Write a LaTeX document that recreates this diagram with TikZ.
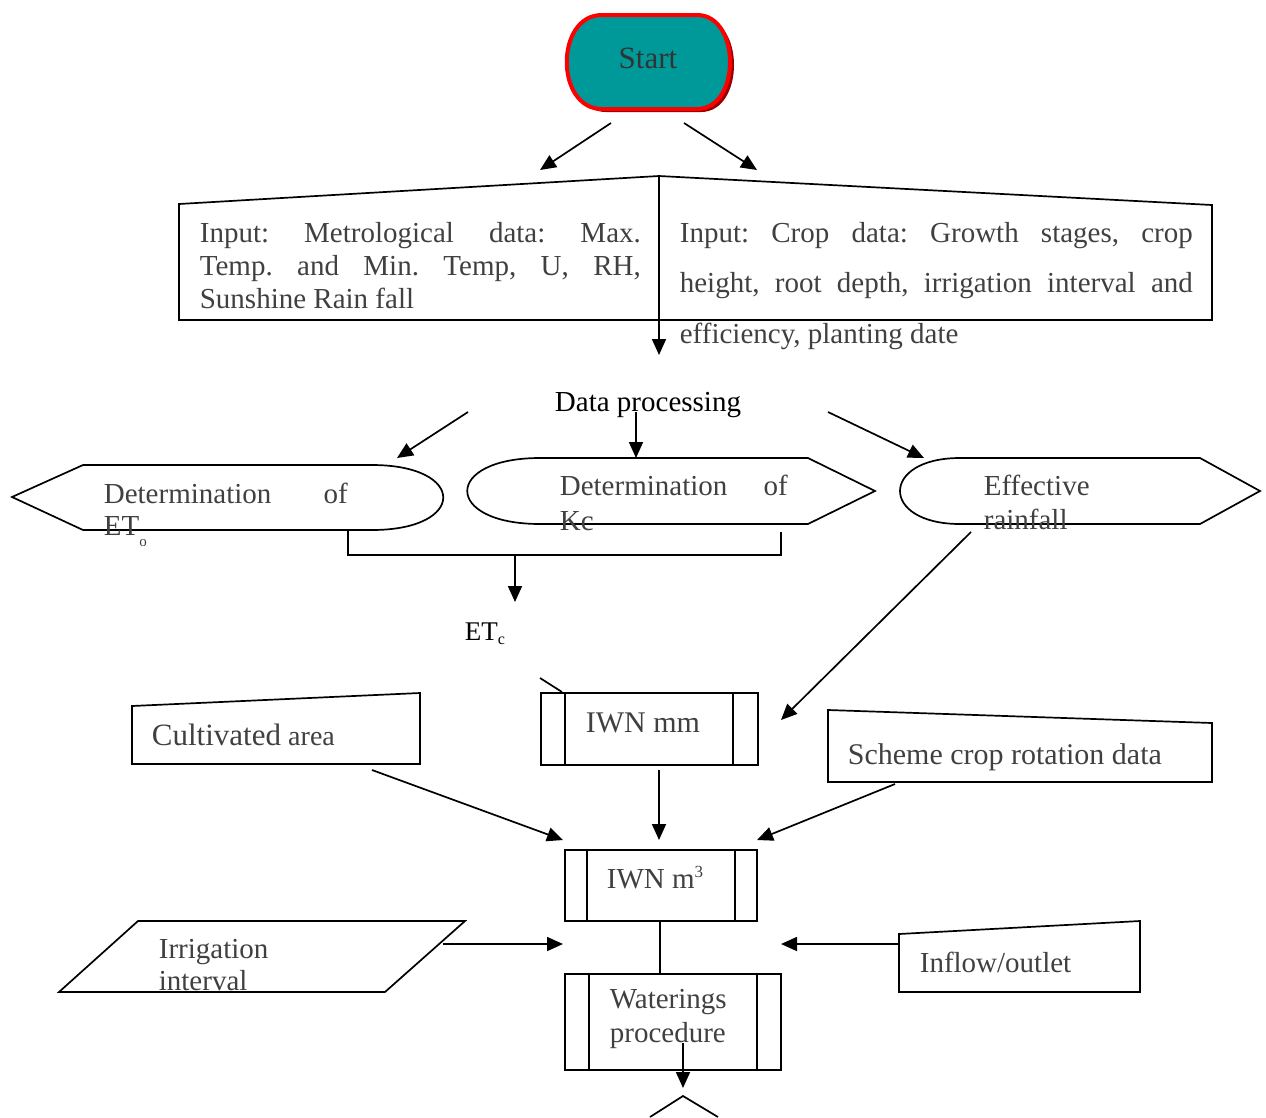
\documentclass[tikz,border=0pt]{standalone}
\usepackage{fontspec}
\setmainfont{Liberation Serif}
\usetikzlibrary{arrows.meta,calc}
\definecolor{txt}{HTML}{404040}
\definecolor{tealfill}{HTML}{009999}
\definecolor{shad}{HTML}{990000}
\frenchspacing
\begin{document}
\begin{tikzpicture}[x=1pt,y=-1pt, line width=1.7pt, line join=miter,
  arr/.style={-{Triangle[length=16pt,width=14pt]}},
  lbl/.style={inner sep=0pt, text=txt, font=\fontsize{29}{33}\selectfont},
  blk/.style={inner sep=0pt, text=black, font=\fontsize{29}{33}\selectfont},
  procbox/.style={draw, inner sep=0pt, anchor=north west}
]
\useasboundingbox (0,0) rectangle (1266,1117);

% ---------- Start terminal ----------
\fill[shad] (606,18) -- (701,18) .. controls (745,18) and (745,112) .. (701,112)
  -- (606,112) .. controls (559,112) and (559,18) .. (606,18) -- cycle;
\filldraw[fill=tealfill, draw=red, line width=4pt] (602,15) -- (697,15)
  .. controls (741,15) and (741,109) .. (697,109) -- (602,109)
  .. controls (555,109) and (555,15) .. (602,15) -- cycle;
\node[inner sep=0pt, text=txt!80!black, font=\fontsize{31}{35}\selectfont, anchor=base] (tstart) at (648,68) {Start};

% ---------- Input shapes ----------
\draw (179,204) -- (659,176) -- (659,320) -- (179,320) -- cycle;
\draw (659,176) -- (1212,205) -- (1212,320) -- (659,320);
\node[lbl, anchor=base west] (m1) at (199,242) {\makebox[441pt][s]{Input: Metrological data: Max.}};
\node[lbl, anchor=base west] (m2) at (199,275) {\makebox[441pt][s]{Temp. and Min. Temp, U, RH,}};
\node[lbl, anchor=base west] (m3) at (199,308) {Sunshine Rain fall};
\node[lbl, anchor=base west] (c1) at (679,242) {\makebox[513pt][s]{Input: Crop data: Growth stages, crop}};
\node[lbl, anchor=base west] (c2) at (679,292) {\makebox[513pt][s]{height, root depth, irrigation interval and}};
\node[lbl, anchor=base west] (c3) at (679,343) {efficiency, planting date};

% ---------- Data processing ----------
\node[blk, anchor=base] (dp) at (648,411) {Data processing};

% ---------- Determination shapes ----------
\draw (12,497) -- (83,465) -- (372,465) .. controls (467,465) and (467,530) .. (372,530)
  -- (83,530) -- cycle;
\draw (540,458) -- (808,458) -- (875,491) -- (808,524) -- (540,524)
  .. controls (443,524) and (443,458) .. (540,458) -- cycle;
\draw (960,458) -- (1200,458) -- (1260,491) -- (1200,524) -- (960,524)
  .. controls (880,524) and (880,458) .. (960,458) -- cycle;
\node[lbl, anchor=base west] (eto1) at (103,503) {\makebox[244pt][s]{Determination of}};
\node[lbl, anchor=base west] (eto2) at (103,535) {ET\raisebox{-11pt}{\fontsize{15}{15}\selectfont o}};
\node[lbl, anchor=base west] (kc1) at (559,495) {\makebox[228pt][s]{Determination of}};
\node[lbl, anchor=base west] (kc2) at (559,530) {Kc};
\node[lbl, anchor=base west] (ef1) at (983,495) {Effective};
\node[lbl, anchor=base west] (ef2) at (983,529) {rainfall};

% ---------- ETc ----------
\node[inner sep=0pt, font=\fontsize{27}{31}\selectfont, anchor=base west] (etc) at (464,640) {ET\raisebox{-4pt}{\fontsize{16}{16}\selectfont c}};

% ---------- Process boxes ----------
\node[procbox, minimum width=217pt, minimum height=72pt] (bmm) at (540,692) {};
\draw ($(bmm.north west)+(25,0)$) -- ($(bmm.south west)+(25,0)$);
\draw ($(bmm.north east)+(-26,0)$) -- ($(bmm.south east)+(-26,0)$);
\node[lbl, font=\fontsize{30}{34}\selectfont, anchor=base] (tmm) at (643,732) {IWN mm};

\node[procbox, minimum width=192pt, minimum height=71pt] (bm3) at (564,849) {};
\draw ($(bm3.north west)+(23,0)$) -- ($(bm3.south west)+(23,0)$);
\draw ($(bm3.north east)+(-23,0)$) -- ($(bm3.south east)+(-23,0)$);
\node[lbl, anchor=base west] (tm3) at (606,888) {IWN m\raisebox{11pt}{\fontsize{17}{17}\selectfont 3}};

\node[procbox, minimum width=216pt, minimum height=96pt] (bwp) at (564,973) {};
\draw ($(bwp.north west)+(25,0)$) -- ($(bwp.south west)+(25,0)$);
\draw ($(bwp.north east)+(-25,0)$) -- ($(bwp.south east)+(-25,0)$);
\node[lbl, anchor=base west] (wp1) at (609,1008) {Waterings};
\node[lbl, anchor=base west] (wp2) at (609,1042) {procedure};

% ---------- Manual inputs / data ----------
\draw (132,706) -- (420,693) -- (420,764) -- (132,764) -- cycle;
\node[lbl, anchor=base west] (tca) at (151,745) {{\fontsize{31}{35}\selectfont Cultivated} {\fontsize{28}{32}\selectfont area}};
\draw (828,710) -- (1212,723) -- (1212,782) -- (828,782) -- cycle;
\node[lbl, font=\fontsize{30}{34}\selectfont, anchor=base west] (tsc) at (847,764) {Scheme crop rotation data};
\draw (138,921) -- (465,921) -- (385,992) -- (59,992) -- cycle;
\node[lbl, anchor=base west] (ii1) at (158,958) {Irrigation};
\node[lbl, anchor=base west] (ii2) at (158,990) {interval};
\draw (899,934) -- (1140,921) -- (1140,992) -- (899,992) -- cycle;
\node[lbl, anchor=base west] (tin) at (919,972) {Inflow/outlet};

% bottom (cut-off) shape
\draw (650,1117) -- (683,1096) -- (718,1117);

% ---------- connector coordinates ----------
\coordinate (s1) at (611,123); \coordinate (e1) at (540,170);
\coordinate (s2) at (684,123); \coordinate (e2) at (757,170);
\coordinate (s3) at (659,176); \coordinate (e3) at (659,355);
\coordinate (s4) at (468,412); \coordinate (e4) at (397,458);
\coordinate (s5) at (636,412); \coordinate (e5) at (636,458);
\coordinate (s6) at (828,412); \coordinate (e6) at (924,458);
\coordinate (j1) at (348,531); \coordinate (j2) at (348,555);
\coordinate (j3) at (781,555); \coordinate (j4) at (781,532);
\coordinate (s8) at (515,555); \coordinate (e8) at (515,602);
\coordinate (s9) at (540,678); \coordinate (e9) at (562,692);
\coordinate (s10) at (971,532); \coordinate (e10) at (781,720);
\coordinate (s11) at (372,770); \coordinate (e11) at (563,840);
\coordinate (s12) at (659,770); \coordinate (e12) at (659,840);
\coordinate (s13) at (895,784); \coordinate (e13) at (757,840);
\coordinate (s14) at (660,920); \coordinate (e14) at (660,973);
\coordinate (s15) at (443,944); \coordinate (e15) at (563,944);
\coordinate (s16) at (899,944); \coordinate (e16) at (781,944);
\coordinate (s17) at (683,1043); \coordinate (e17) at (683,1088);

\draw[arr] (s1) -- (e1);
\draw[arr] (s2) -- (e2);
\draw[arr] (s3) -- (e3);
\draw[arr] (s4) -- (e4);
\draw[arr] (s5) -- (e5);
\draw[arr] (s6) -- (e6);
\draw (j1) -- (j2) -- (j3) -- (j4);
\draw[arr] (s8) -- (e8);
\draw (s9) -- (e9);
\draw[arr] (s10) -- (e10);
\draw[arr] (s11) -- (e11);
\draw[arr] (s12) -- (e12);
\draw[arr] (s13) -- (e13);
\draw (s14) -- (e14);
\draw[arr] (s15) -- (e15);
\draw[arr] (s16) -- (e16);
\draw[arr] (s17) -- (e17);
\end{tikzpicture}
\end{document}
